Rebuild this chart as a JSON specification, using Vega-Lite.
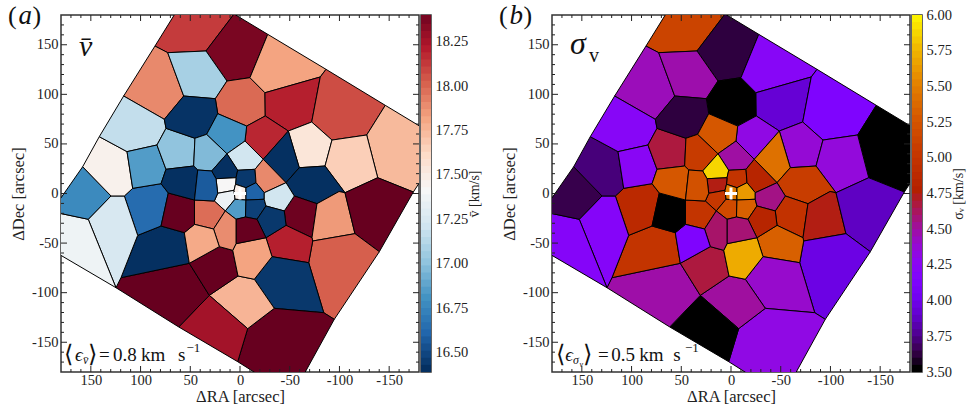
{"$schema":"https://vega.github.io/schema/vega-lite/v6.json","padding":{"left":7,"top":1,"right":0,"bottom":0},"autosize":{"type":"pad"},"background":"white","config":{"view":{"stroke":"#333","strokeWidth":1.5},"font":"Liberation Serif","axis":{"labelFont":"Liberation Serif","titleFont":"Liberation Serif","labelFontSize":14.5,"titleFontSize":16.5,"labelColor":"#222","titleColor":"#222","titleFontWeight":"normal","grid":false,"domain":false,"ticks":false,"labelOverlap":false,"labelFlush":false}},"datasets":{
"vtx":[{"k":1,"x":85.5,"y":148.7},{"k":2,"x":72.7,"y":142},{"k":3,"x":34.2,"y":143.7},{"k":4,"x":49.3,"y":207.2},{"k":5,"x":6,"y":181},{"k":6,"x":-27.9,"y":160.5},{"k":7,"x":-10,"y":116.8},{"k":8,"x":13.1,"y":113.4},{"k":9,"x":56.6,"y":98.3},{"k":10,"x":76.1,"y":74.8},{"k":11,"x":117,"y":98.3},{"k":12,"x":24.8,"y":95.6},{"k":13,"x":-25.1,"y":101.6},{"k":14,"x":-25.4,"y":78.2},{"k":15,"x":-6.7,"y":68},{"k":16,"x":22.4,"y":80.5},{"k":17,"x":-86.5,"y":125.2},{"k":18,"x":-80.7,"y":117.5},{"k":19,"x":-72.1,"y":72.1},{"k":20,"x":-48.6,"y":63},{"k":21,"x":-146.1,"y":88.9},{"k":22,"x":-127.4,"y":59},{"k":23,"x":-92.5,"y":53.9},{"k":24,"x":-174.3,"y":1.5},{"k":25,"x":-138.5,"y":15.9},{"k":26,"x":-85.5,"y":27.7},{"k":27,"x":-59.6,"y":26},{"k":28,"x":-105.6,"y":0.8},{"k":29,"x":-23.4,"y":34.5},{"k":30,"x":-5,"y":52.9},{"k":31,"x":-46.3,"y":10.9},{"k":32,"x":-77.4,"y":-10.3},{"k":33,"x":-99.6,"y":2},{"k":34,"x":-54.6,"y":-2.5},{"k":35,"x":-72.4,"y":-44.6},{"k":36,"x":-46.3,"y":-32.1},{"k":37,"x":-44.5,"y":-17.6},{"k":38,"x":-115.6,"y":-40.5},{"k":39,"x":-73.1,"y":-47.9},{"k":40,"x":-140.1,"y":-58.7},{"k":41,"x":-94.8,"y":-126.9},{"k":42,"x":-84.2,"y":-120.2},{"k":43,"x":-69.1,"y":-69.8},{"k":44,"x":-32.2,"y":-63.7},{"k":45,"x":-26.1,"y":-44.6},{"k":46,"x":-34.5,"y":-115.8},{"k":47,"x":-14.4,"y":-86.5},{"k":48,"x":-7.7,"y":-136.3},{"k":49,"x":2.3,"y":-169.6},{"k":50,"x":2,"y":-83.2},{"k":51,"x":30.9,"y":-102.7},{"k":52,"x":61.6,"y":-134.6},{"k":53,"x":51,"y":-70.4},{"k":54,"x":119.7,"y":-84.9},{"k":55,"x":124.7,"y":-95},{"k":56,"x":20.8,"y":-53.6},{"k":57,"x":7.3,"y":-57.3},{"k":58,"x":4,"y":-50.6},{"k":59,"x":102.9,"y":-42.2},{"k":60,"x":79.4,"y":-32.8},{"k":61,"x":56,"y":-39.5},{"k":62,"x":116.3,"y":-2.5},{"k":63,"x":72.1,"y":0.5},{"k":64,"x":107.9,"y":5.2},{"k":65,"x":79.4,"y":9.9},{"k":66,"x":129.7,"y":-2.5},{"k":67,"x":152.6,"y":-26},{"k":68,"x":189.6,"y":-18.2},{"k":69,"x":158.2,"y":27},{"k":71,"x":141.5,"y":57.3},{"k":72,"x":113.6,"y":42.2},{"k":74,"x":74.4,"y":65.7},{"k":75,"x":83.5,"y":48.9},{"k":76,"x":74.4,"y":24.4},{"k":77,"x":45.3,"y":55.7},{"k":78,"x":46.6,"y":27.7},{"k":79,"x":33.5,"y":59.7},{"k":80,"x":13.1,"y":40.1},{"k":81,"x":28.5,"y":22.7},{"k":82,"x":42.5,"y":23.7},{"k":83,"x":-15.1,"y":24.4},{"k":84,"x":2.3,"y":23.4},{"k":85,"x":4,"y":15.9},{"k":86,"x":24.1,"y":14.9},{"k":87,"x":-16.1,"y":10.9},{"k":88,"x":-6,"y":5.8},{"k":89,"x":6,"y":3.2},{"k":90,"x":22.4,"y":0.2},{"k":91,"x":5,"y":-5.8},{"k":92,"x":14.8,"y":-17.6},{"k":93,"x":25.8,"y":-7.6},{"k":94,"x":-24.4,"y":0.8},{"k":95,"x":-24.4,"y":-5.8},{"k":96,"x":-6,"y":-6.6},{"k":98,"x":4.5,"y":9.3},{"k":99,"x":-5.5,"y":-23.7},{"k":100,"x":4,"y":-26},{"k":101,"x":-17.1,"y":-26},{"k":102,"x":-26.1,"y":-12.6},{"k":103,"x":26.6,"y":-35.8},{"k":105,"x":45.8,"y":-31.1},{"k":106,"x":45.8,"y":-6.6},{"k":201,"x":-207.2,"y":51.9},{"k":202,"x":-52.3,"y":-204.2},{"k":203,"x":207.2,"y":-46.4}],
"cells":[{"c":1,"v":18.1,"s":5.1},{"c":2,"v":18.35,"s":3.6},{"c":3,"v":17.88,"s":4.42},{"c":4,"v":17.06,"s":4.45},{"c":5,"v":17.97,"s":3.5},{"c":6,"v":17.8,"s":4.2},{"c":7,"v":18.18,"s":3.9},{"c":8,"v":18.05,"s":4.12},{"c":9,"v":17.72,"s":3.5},{"c":10,"v":17.52,"s":4.35},{"c":11,"v":17.64,"s":4.33},{"c":12,"v":18.16,"s":4.3},{"c":13,"v":16.39,"s":5.4},{"c":14,"v":16.39,"s":5.05},{"c":15,"v":18.38,"s":4.95},{"c":16,"v":17.83,"s":4.72},{"c":17,"v":18.4,"s":3.85},{"c":18,"v":18,"s":3.95},{"c":19,"v":18.18,"s":5.3},{"c":20,"v":16.42,"s":4.38},{"c":21,"v":18.4,"s":4.3},{"c":22,"v":17.74,"s":4.48},{"c":23,"v":18.24,"s":3.5},{"c":24,"v":18.4,"s":4.46},{"c":25,"v":18.4,"s":4.65},{"c":26,"v":17.8,"s":5.68},{"c":27,"v":16.39,"s":4.97},{"c":28,"v":16.62,"s":4.85},{"c":29,"v":17.23,"s":4.18},{"c":30,"v":17.35,"s":4.18},{"c":31,"v":16.75,"s":3.62},{"c":32,"v":17.44,"s":3.7},{"c":33,"v":17.15,"s":4.2},{"c":34,"v":16.83,"s":4.22},{"c":35,"v":16.99,"s":4.65},{"c":36,"v":16.4,"s":3.6},{"c":37,"v":16.95,"s":5.03},{"c":38,"v":16.79,"s":5.25},{"c":39,"v":17.2,"s":4.47},{"c":40,"v":16.39,"s":5.85},{"c":41,"v":16.42,"s":4.97},{"c":42,"v":17.88,"s":4.8},{"c":43,"v":17.4,"s":4.72},{"c":44,"v":17.33,"s":5},{"c":45,"v":17.45,"s":5.45},{"c":46,"v":16.58,"s":5.6},{"c":47,"v":16.83,"s":5.15},{"c":48,"v":16.45,"s":5.3},{"c":49,"v":17.2,"s":4.53},{"c":50,"v":16.42,"s":4.8},{"c":51,"v":18.4,"s":4.56},{"c":52,"v":17.96,"s":4.97},{"c":53,"v":17.87,"s":4.58},{"c":54,"v":17.78,"s":4.12},{"c":55,"v":18.4,"s":3.5},{"c":56,"v":16.39,"s":5.25},{"c":57,"v":16.55,"s":5.2}],
"poly":[{"c":1,"i":0,"k":4},{"c":1,"i":1,"k":5},{"c":1,"i":2,"k":3},{"c":1,"i":3,"k":2},{"c":1,"i":4,"k":1},{"c":2,"i":0,"k":5},{"c":2,"i":1,"k":6},{"c":2,"i":2,"k":7},{"c":2,"i":3,"k":8},{"c":2,"i":4,"k":3},{"c":3,"i":0,"k":1},{"c":3,"i":1,"k":2},{"c":3,"i":2,"k":9},{"c":3,"i":3,"k":10},{"c":3,"i":4,"k":11},{"c":4,"i":0,"k":2},{"c":4,"i":1,"k":3},{"c":4,"i":2,"k":8},{"c":4,"i":3,"k":12},{"c":4,"i":4,"k":9},{"c":5,"i":0,"k":8},{"c":5,"i":1,"k":7},{"c":5,"i":2,"k":13},{"c":5,"i":3,"k":14},{"c":5,"i":4,"k":15},{"c":5,"i":5,"k":16},{"c":5,"i":6,"k":12},{"c":6,"i":0,"k":6},{"c":6,"i":1,"k":17},{"c":6,"i":2,"k":18},{"c":6,"i":3,"k":13},{"c":6,"i":4,"k":7},{"c":7,"i":0,"k":13},{"c":7,"i":1,"k":18},{"c":7,"i":2,"k":19},{"c":7,"i":3,"k":20},{"c":7,"i":4,"k":14},{"c":8,"i":0,"k":17},{"c":8,"i":1,"k":21},{"c":8,"i":2,"k":22},{"c":8,"i":3,"k":23},{"c":8,"i":4,"k":19},{"c":8,"i":5,"k":18},{"c":9,"i":0,"k":21},{"c":9,"i":1,"k":201},{"c":9,"i":2,"k":24},{"c":9,"i":3,"k":25},{"c":9,"i":4,"k":22},{"c":10,"i":0,"k":20},{"c":10,"i":1,"k":19},{"c":10,"i":2,"k":23},{"c":10,"i":3,"k":26},{"c":10,"i":4,"k":27},{"c":11,"i":0,"k":23},{"c":11,"i":1,"k":22},{"c":11,"i":2,"k":25},{"c":11,"i":3,"k":28},{"c":11,"i":4,"k":26},{"c":12,"i":0,"k":14},{"c":12,"i":1,"k":20},{"c":12,"i":2,"k":29},{"c":12,"i":3,"k":30},{"c":12,"i":4,"k":15},{"c":13,"i":0,"k":20},{"c":13,"i":1,"k":27},{"c":13,"i":2,"k":31},{"c":13,"i":3,"k":29},{"c":14,"i":0,"k":27},{"c":14,"i":1,"k":26},{"c":14,"i":2,"k":28},{"c":14,"i":3,"k":33},{"c":14,"i":4,"k":32},{"c":14,"i":5,"k":34},{"c":14,"i":6,"k":31},{"c":15,"i":0,"k":34},{"c":15,"i":1,"k":32},{"c":15,"i":2,"k":35},{"c":15,"i":3,"k":36},{"c":15,"i":4,"k":37},{"c":16,"i":0,"k":32},{"c":16,"i":1,"k":33},{"c":16,"i":2,"k":28},{"c":16,"i":3,"k":38},{"c":16,"i":4,"k":39},{"c":16,"i":5,"k":35},{"c":17,"i":0,"k":28},{"c":17,"i":1,"k":25},{"c":17,"i":2,"k":24},{"c":17,"i":3,"k":40},{"c":17,"i":4,"k":38},{"c":18,"i":0,"k":39},{"c":18,"i":1,"k":38},{"c":18,"i":2,"k":40},{"c":18,"i":3,"k":41},{"c":18,"i":4,"k":42},{"c":18,"i":5,"k":43},{"c":19,"i":0,"k":36},{"c":19,"i":1,"k":35},{"c":19,"i":2,"k":39},{"c":19,"i":3,"k":43},{"c":19,"i":4,"k":44},{"c":19,"i":5,"k":45},{"c":20,"i":0,"k":44},{"c":20,"i":1,"k":43},{"c":20,"i":2,"k":42},{"c":20,"i":3,"k":46},{"c":20,"i":4,"k":47},{"c":21,"i":0,"k":46},{"c":21,"i":1,"k":42},{"c":21,"i":2,"k":41},{"c":21,"i":3,"k":202},{"c":21,"i":4,"k":49},{"c":21,"i":5,"k":48},{"c":22,"i":0,"k":50},{"c":22,"i":1,"k":47},{"c":22,"i":2,"k":46},{"c":22,"i":3,"k":48},{"c":22,"i":4,"k":51},{"c":23,"i":0,"k":51},{"c":23,"i":1,"k":48},{"c":23,"i":2,"k":49},{"c":23,"i":3,"k":52},{"c":24,"i":0,"k":52},{"c":24,"i":1,"k":51},{"c":24,"i":2,"k":53},{"c":24,"i":3,"k":54},{"c":24,"i":4,"k":55},{"c":25,"i":0,"k":53},{"c":25,"i":1,"k":56},{"c":25,"i":2,"k":57},{"c":25,"i":3,"k":50},{"c":25,"i":4,"k":51},{"c":26,"i":0,"k":57},{"c":26,"i":1,"k":58},{"c":26,"i":2,"k":45},{"c":26,"i":3,"k":44},{"c":26,"i":4,"k":47},{"c":26,"i":5,"k":50},{"c":27,"i":0,"k":59},{"c":27,"i":1,"k":60},{"c":27,"i":2,"k":61},{"c":27,"i":3,"k":53},{"c":27,"i":4,"k":54},{"c":28,"i":0,"k":62},{"c":28,"i":1,"k":64},{"c":28,"i":2,"k":65},{"c":28,"i":3,"k":63},{"c":28,"i":4,"k":60},{"c":28,"i":5,"k":59},{"c":29,"i":0,"k":66},{"c":29,"i":1,"k":62},{"c":29,"i":2,"k":59},{"c":29,"i":3,"k":54},{"c":29,"i":4,"k":55},{"c":29,"i":5,"k":67},{"c":30,"i":0,"k":68},{"c":30,"i":1,"k":67},{"c":30,"i":2,"k":55},{"c":30,"i":3,"k":203},{"c":31,"i":0,"k":69},{"c":31,"i":1,"k":66},{"c":31,"i":2,"k":67},{"c":31,"i":3,"k":68},{"c":32,"i":0,"k":71},{"c":32,"i":1,"k":72},{"c":32,"i":2,"k":64},{"c":32,"i":3,"k":62},{"c":32,"i":4,"k":66},{"c":32,"i":5,"k":69},{"c":33,"i":0,"k":11},{"c":33,"i":1,"k":10},{"c":33,"i":2,"k":74},{"c":33,"i":3,"k":75},{"c":33,"i":4,"k":72},{"c":33,"i":5,"k":71},{"c":34,"i":0,"k":72},{"c":34,"i":1,"k":75},{"c":34,"i":2,"k":76},{"c":34,"i":3,"k":65},{"c":34,"i":4,"k":64},{"c":35,"i":0,"k":74},{"c":35,"i":1,"k":77},{"c":35,"i":2,"k":78},{"c":35,"i":3,"k":76},{"c":35,"i":4,"k":75},{"c":36,"i":0,"k":9},{"c":36,"i":1,"k":12},{"c":36,"i":2,"k":16},{"c":36,"i":3,"k":79},{"c":36,"i":4,"k":77},{"c":36,"i":5,"k":74},{"c":36,"i":6,"k":10},{"c":37,"i":0,"k":79},{"c":37,"i":1,"k":80},{"c":37,"i":2,"k":81},{"c":37,"i":3,"k":82},{"c":37,"i":4,"k":78},{"c":37,"i":5,"k":77},{"c":38,"i":0,"k":16},{"c":38,"i":1,"k":15},{"c":38,"i":2,"k":30},{"c":38,"i":3,"k":80},{"c":38,"i":4,"k":79},{"c":39,"i":0,"k":30},{"c":39,"i":1,"k":29},{"c":39,"i":2,"k":83},{"c":39,"i":3,"k":84},{"c":39,"i":4,"k":80},{"c":40,"i":0,"k":80},{"c":40,"i":1,"k":84},{"c":40,"i":2,"k":85},{"c":40,"i":3,"k":86},{"c":40,"i":4,"k":81},{"c":41,"i":0,"k":84},{"c":41,"i":1,"k":83},{"c":41,"i":2,"k":87},{"c":41,"i":3,"k":88},{"c":41,"i":4,"k":98},{"c":41,"i":5,"k":85},{"c":42,"i":0,"k":29},{"c":42,"i":1,"k":31},{"c":42,"i":2,"k":94},{"c":42,"i":3,"k":87},{"c":42,"i":4,"k":83},{"c":43,"i":0,"k":86},{"c":43,"i":1,"k":85},{"c":43,"i":2,"k":98},{"c":43,"i":3,"k":89},{"c":43,"i":4,"k":90},{"c":44,"i":0,"k":90},{"c":44,"i":1,"k":89},{"c":44,"i":2,"k":91},{"c":44,"i":3,"k":92},{"c":44,"i":4,"k":93},{"c":45,"i":0,"k":98},{"c":45,"i":1,"k":88},{"c":45,"i":2,"k":96},{"c":45,"i":3,"k":91},{"c":45,"i":4,"k":89},{"c":46,"i":0,"k":88},{"c":46,"i":1,"k":87},{"c":46,"i":2,"k":94},{"c":46,"i":3,"k":95},{"c":46,"i":4,"k":96},{"c":47,"i":0,"k":91},{"c":47,"i":1,"k":96},{"c":47,"i":2,"k":99},{"c":47,"i":3,"k":100},{"c":47,"i":4,"k":92},{"c":48,"i":0,"k":96},{"c":48,"i":1,"k":95},{"c":48,"i":2,"k":102},{"c":48,"i":3,"k":101},{"c":48,"i":4,"k":99},{"c":49,"i":0,"k":94},{"c":49,"i":1,"k":31},{"c":49,"i":2,"k":34},{"c":49,"i":3,"k":37},{"c":49,"i":4,"k":102},{"c":49,"i":5,"k":95},{"c":50,"i":0,"k":102},{"c":50,"i":1,"k":37},{"c":50,"i":2,"k":36},{"c":50,"i":3,"k":45},{"c":50,"i":4,"k":101},{"c":51,"i":0,"k":100},{"c":51,"i":1,"k":99},{"c":51,"i":2,"k":101},{"c":51,"i":3,"k":45},{"c":51,"i":4,"k":58},{"c":52,"i":0,"k":106},{"c":52,"i":1,"k":93},{"c":52,"i":2,"k":92},{"c":52,"i":3,"k":103},{"c":52,"i":4,"k":105},{"c":53,"i":0,"k":92},{"c":53,"i":1,"k":100},{"c":53,"i":2,"k":58},{"c":53,"i":3,"k":57},{"c":53,"i":4,"k":56},{"c":53,"i":5,"k":103},{"c":54,"i":0,"k":61},{"c":54,"i":1,"k":105},{"c":54,"i":2,"k":103},{"c":54,"i":3,"k":56},{"c":54,"i":4,"k":53},{"c":55,"i":0,"k":63},{"c":55,"i":1,"k":106},{"c":55,"i":2,"k":105},{"c":55,"i":3,"k":61},{"c":55,"i":4,"k":60},{"c":56,"i":0,"k":65},{"c":56,"i":1,"k":76},{"c":56,"i":2,"k":78},{"c":56,"i":3,"k":82},{"c":56,"i":4,"k":106},{"c":56,"i":5,"k":63},{"c":57,"i":0,"k":82},{"c":57,"i":1,"k":81},{"c":57,"i":2,"k":86},{"c":57,"i":3,"k":90},{"c":57,"i":4,"k":93},{"c":57,"i":5,"k":106}],
"ticks":[{"t":-170,"a":180,"b":-180,"z":6},{"t":-160,"a":180,"b":-180,"z":6},{"t":-150,"a":180,"b":-180,"z":12},{"t":-140,"a":180,"b":-180,"z":6},{"t":-130,"a":180,"b":-180,"z":6},{"t":-120,"a":180,"b":-180,"z":6},{"t":-110,"a":180,"b":-180,"z":6},{"t":-100,"a":180,"b":-180,"z":12},{"t":-90,"a":180,"b":-180,"z":6},{"t":-80,"a":180,"b":-180,"z":6},{"t":-70,"a":180,"b":-180,"z":6},{"t":-60,"a":180,"b":-180,"z":6},{"t":-50,"a":180,"b":-180,"z":12},{"t":-40,"a":180,"b":-180,"z":6},{"t":-30,"a":180,"b":-180,"z":6},{"t":-20,"a":180,"b":-180,"z":6},{"t":-10,"a":180,"b":-180,"z":6},{"t":0,"a":180,"b":-180,"z":12},{"t":10,"a":180,"b":-180,"z":6},{"t":20,"a":180,"b":-180,"z":6},{"t":30,"a":180,"b":-180,"z":6},{"t":40,"a":180,"b":-180,"z":6},{"t":50,"a":180,"b":-180,"z":12},{"t":60,"a":180,"b":-180,"z":6},{"t":70,"a":180,"b":-180,"z":6},{"t":80,"a":180,"b":-180,"z":6},{"t":90,"a":180,"b":-180,"z":6},{"t":100,"a":180,"b":-180,"z":12},{"t":110,"a":180,"b":-180,"z":6},{"t":120,"a":180,"b":-180,"z":6},{"t":130,"a":180,"b":-180,"z":6},{"t":140,"a":180,"b":-180,"z":6},{"t":150,"a":180,"b":-180,"z":12},{"t":160,"a":180,"b":-180,"z":6},{"t":170,"a":180,"b":-180,"z":6}],
"center":[{"x":0,"y":0}],
"cbv":[{"lo":16.39,"hi":16.45},{"lo":16.43,"hi":16.49},{"lo":16.47,"hi":16.53},{"lo":16.51,"hi":16.57},{"lo":16.55,"hi":16.61},{"lo":16.59,"hi":16.65},{"lo":16.63,"hi":16.69},{"lo":16.67,"hi":16.73},{"lo":16.71,"hi":16.77},{"lo":16.75,"hi":16.81},{"lo":16.79,"hi":16.85},{"lo":16.83,"hi":16.89},{"lo":16.87,"hi":16.93},{"lo":16.91,"hi":16.97},{"lo":16.95,"hi":17.01},{"lo":16.99,"hi":17.05},{"lo":17.03,"hi":17.09},{"lo":17.07,"hi":17.13},{"lo":17.11,"hi":17.17},{"lo":17.15,"hi":17.21},{"lo":17.19,"hi":17.25},{"lo":17.23,"hi":17.29},{"lo":17.27,"hi":17.33},{"lo":17.31,"hi":17.37},{"lo":17.35,"hi":17.41},{"lo":17.39,"hi":17.45},{"lo":17.43,"hi":17.49},{"lo":17.47,"hi":17.53},{"lo":17.51,"hi":17.57},{"lo":17.55,"hi":17.61},{"lo":17.59,"hi":17.65},{"lo":17.63,"hi":17.69},{"lo":17.67,"hi":17.73},{"lo":17.71,"hi":17.77},{"lo":17.75,"hi":17.81},{"lo":17.79,"hi":17.85},{"lo":17.83,"hi":17.89},{"lo":17.87,"hi":17.93},{"lo":17.91,"hi":17.97},{"lo":17.95,"hi":18.01},{"lo":17.99,"hi":18.05},{"lo":18.03,"hi":18.09},{"lo":18.07,"hi":18.13},{"lo":18.11,"hi":18.17},{"lo":18.15,"hi":18.21},{"lo":18.19,"hi":18.25},{"lo":18.23,"hi":18.29},{"lo":18.27,"hi":18.33},{"lo":18.31,"hi":18.37},{"lo":18.35,"hi":18.4}],
"cbs":[{"lo":3.5,"hi":3.57},{"lo":3.55,"hi":3.62},{"lo":3.6,"hi":3.67},{"lo":3.65,"hi":3.72},{"lo":3.7,"hi":3.77},{"lo":3.75,"hi":3.82},{"lo":3.8,"hi":3.87},{"lo":3.85,"hi":3.92},{"lo":3.9,"hi":3.97},{"lo":3.95,"hi":4.02},{"lo":4,"hi":4.07},{"lo":4.05,"hi":4.12},{"lo":4.1,"hi":4.17},{"lo":4.15,"hi":4.22},{"lo":4.2,"hi":4.27},{"lo":4.25,"hi":4.32},{"lo":4.3,"hi":4.37},{"lo":4.35,"hi":4.42},{"lo":4.4,"hi":4.47},{"lo":4.45,"hi":4.52},{"lo":4.5,"hi":4.57},{"lo":4.55,"hi":4.62},{"lo":4.6,"hi":4.67},{"lo":4.65,"hi":4.72},{"lo":4.7,"hi":4.77},{"lo":4.75,"hi":4.82},{"lo":4.8,"hi":4.87},{"lo":4.85,"hi":4.92},{"lo":4.9,"hi":4.97},{"lo":4.95,"hi":5.02},{"lo":5,"hi":5.07},{"lo":5.05,"hi":5.12},{"lo":5.1,"hi":5.17},{"lo":5.15,"hi":5.22},{"lo":5.2,"hi":5.27},{"lo":5.25,"hi":5.32},{"lo":5.3,"hi":5.37},{"lo":5.35,"hi":5.42},{"lo":5.4,"hi":5.47},{"lo":5.45,"hi":5.52},{"lo":5.5,"hi":5.57},{"lo":5.55,"hi":5.62},{"lo":5.6,"hi":5.67},{"lo":5.65,"hi":5.72},{"lo":5.7,"hi":5.77},{"lo":5.75,"hi":5.82},{"lo":5.8,"hi":5.87},{"lo":5.85,"hi":5.92},{"lo":5.9,"hi":5.97},{"lo":5.95,"hi":6}]
},
"spacing":0,
"hconcat":[
{"width":358,"height":357,"layer":[
{"data":{"name":"poly"},"transform":[{"lookup":"k","from":{"data":{"name":"vtx"},"key":"k","fields":["x","y"]}},{"lookup":"c","from":{"data":{"name":"cells"},"key":"c","fields":["v","s"]}}],"mark":{"type":"line","interpolate":"linear-closed","stroke":"black","strokeWidth":1,"clip":true,"opacity":1,"fillOpacity":1},"encoding":{"x":{"field":"x","type":"quantitative","scale":{"domain":[180,-180],"nice":false,"zero":false},"axis":{"values":[-150,-100,-50,0,50,100,150],"labelExpr":"''+datum.value","title":"ΔRA [arcsec]","labelPadding":1,"titlePadding":2}},"y":{"field":"y","type":"quantitative","scale":{"domain":[-180,180],"nice":false,"zero":false},"axis":{"values":[-150,-100,-50,0,50,100,150],"labelExpr":"''+datum.value","title":"ΔDec [arcsec]","labelPadding":3,"titlePadding":5}},"detail":{"field":"c"},"order":{"field":"i","type":"quantitative"},"fill":{"field":"v","type":"quantitative","scale":{"domain":[16.39,16.591,16.792,16.993,17.194,17.395,17.596,17.797,17.998,18.199,18.4],"range":["#053061","#2166ac","#4393c3","#92c5de","#d1e5f0","#f7f7f7","#fddbc7","#f4a582","#d6604d","#b2182b","#67001f"],"interpolate":"rgb","clamp":true,"nice":false,"zero":false},"legend":null}}},
{"data":{"name":"ticks"},"mark":{"type":"tick","orient":"vertical","color":"#222","thickness":1,"clip":true,"opacity":1},"encoding":{"x":{"field":"t","type":"quantitative"},"y":{"field":"a","type":"quantitative"},"size":{"field":"z","type":"quantitative","scale":null}}},
{"data":{"name":"ticks"},"mark":{"type":"tick","orient":"vertical","color":"#222","thickness":1,"clip":true,"opacity":1},"encoding":{"x":{"field":"t","type":"quantitative"},"y":{"field":"b","type":"quantitative"},"size":{"field":"z","type":"quantitative","scale":null}}},
{"data":{"name":"ticks"},"mark":{"type":"tick","orient":"horizontal","color":"#222","thickness":1,"clip":true,"opacity":1},"encoding":{"y":{"field":"t","type":"quantitative"},"x":{"field":"a","type":"quantitative"},"size":{"field":"z","type":"quantitative","scale":null}}},
{"data":{"name":"ticks"},"mark":{"type":"tick","orient":"horizontal","color":"#222","thickness":1,"clip":true,"opacity":1},"encoding":{"y":{"field":"t","type":"quantitative"},"x":{"field":"b","type":"quantitative"},"size":{"field":"z","type":"quantitative","scale":null}}},
{"data":{"name":"center"},"mark":{"type":"point","shape":"M-1,0L1,0M0,-1L0,1","size":144,"filled":false,"stroke":"white","strokeWidth":3,"opacity":1},"encoding":{"x":{"field":"x","type":"quantitative"},"y":{"field":"y","type":"quantitative"}}},
{"data":{"values":[{"t":"(","x":233.3,"y":171,"s":26},{"t":")","x":208.7,"y":171,"s":26},{"t":"⟨","x":177,"y":-170,"s":24},{"t":"⟩","x":152.9,"y":-170,"s":24},{"t":"=","x":141.8,"y":-169,"s":19},{"t":"0.8","x":127.7,"y":-169,"s":19},{"t":"km","x":99.6,"y":-169,"s":19},{"t":"s","x":62.3,"y":-169,"s":19},{"t":"−1","x":53.8,"y":-160,"s":13}]},"mark":{"type":"text","align":"left","baseline":"alphabetic","font":"Liberation Serif","color":"#111"},"encoding":{"x":{"field":"x","type":"quantitative"},"y":{"field":"y","type":"quantitative"},"text":{"field":"t"},"size":{"field":"s","type":"quantitative","scale":null}}},
{"data":{"values":[{"t":"a","x":222.7,"y":171,"s":27},{"t":"v̄","x":161.9,"y":138.7,"s":30},{"t":"ϵ","x":165.9,"y":-169,"s":19},{"t":"v̄","x":157.9,"y":-172,"s":12}]},"mark":{"type":"text","align":"left","baseline":"alphabetic","font":"Liberation Serif","fontStyle":"italic","color":"#111"},"encoding":{"x":{"field":"x","type":"quantitative"},"y":{"field":"y","type":"quantitative"},"text":{"field":"t"},"size":{"field":"s","type":"quantitative","scale":null}}}
]},
{"width":10,"height":357,"data":{"name":"cbv"},"mark":{"type":"rect","clip":true,"opacity":1},"encoding":{"y":{"field":"lo","type":"quantitative","scale":{"domain":[16.39,18.4],"nice":false,"zero":false},"axis":{"orient":"right","values":[16.5,16.75,17,17.25,17.5,17.75,18,18.25],"format":".2f","title":"v̄ [km/s]","titleAngle":270,"titleFontSize":14,"labelPadding":4,"titlePadding":14}},"y2":{"field":"hi"},"fill":{"field":"lo","type":"quantitative","scale":{"domain":[16.39,16.591,16.792,16.993,17.194,17.395,17.596,17.797,17.998,18.199,18.4],"range":["#053061","#2166ac","#4393c3","#92c5de","#d1e5f0","#f7f7f7","#fddbc7","#f4a582","#d6604d","#b2182b","#67001f"],"interpolate":"rgb","clamp":true,"nice":false,"zero":false},"legend":null}}},
{"width":358,"height":357,"layer":[
{"data":{"name":"poly"},"transform":[{"lookup":"k","from":{"data":{"name":"vtx"},"key":"k","fields":["x","y"]}},{"lookup":"c","from":{"data":{"name":"cells"},"key":"c","fields":["v","s"]}}],"mark":{"type":"line","filled":true,"interpolate":"linear-closed","stroke":"black","strokeWidth":1,"clip":true,"opacity":1,"fillOpacity":1},"encoding":{"x":{"field":"x","type":"quantitative","scale":{"domain":[180,-180],"nice":false,"zero":false},"axis":{"values":[-150,-100,-50,0,50,100,150],"labelExpr":"''+datum.value","title":"ΔRA [arcsec]","labelPadding":1,"titlePadding":2}},"y":{"field":"y","type":"quantitative","scale":{"domain":[-180,180],"nice":false,"zero":false},"axis":{"values":[-150,-100,-50,0,50,100,150],"labelExpr":"''+datum.value","title":"ΔDec [arcsec]","labelPadding":3,"titlePadding":5}},"detail":{"field":"c"},"order":{"field":"i","type":"quantitative"},"color":{"field":"s","type":"quantitative","scale":{"domain":[3.5,3.625,3.75,3.875,4,4.125,4.25,4.375,4.5,4.625,4.75,5,5.25,5.5,5.75,6],"range":["#000000","#39004f","#510096","#6301ce","#7202f2","#8004ff","#8c07f2","#970bce","#a11096","#ab174f","#b42000","#c53700","#d55700","#e48300","#f2ba00","#ffff00"],"interpolate":"rgb","clamp":true,"nice":false,"zero":false},"legend":null}}},
{"data":{"name":"ticks"},"mark":{"type":"tick","orient":"vertical","color":"#222","thickness":1,"clip":true,"opacity":1},"encoding":{"x":{"field":"t","type":"quantitative"},"y":{"field":"a","type":"quantitative"},"size":{"field":"z","type":"quantitative","scale":null}}},
{"data":{"name":"ticks"},"mark":{"type":"tick","orient":"vertical","color":"#222","thickness":1,"clip":true,"opacity":1},"encoding":{"x":{"field":"t","type":"quantitative"},"y":{"field":"b","type":"quantitative"},"size":{"field":"z","type":"quantitative","scale":null}}},
{"data":{"name":"ticks"},"mark":{"type":"tick","orient":"horizontal","color":"#222","thickness":1,"clip":true,"opacity":1},"encoding":{"y":{"field":"t","type":"quantitative"},"x":{"field":"a","type":"quantitative"},"size":{"field":"z","type":"quantitative","scale":null}}},
{"data":{"name":"ticks"},"mark":{"type":"tick","orient":"horizontal","color":"#222","thickness":1,"clip":true,"opacity":1},"encoding":{"y":{"field":"t","type":"quantitative"},"x":{"field":"b","type":"quantitative"},"size":{"field":"z","type":"quantitative","scale":null}}},
{"data":{"name":"center"},"mark":{"type":"point","shape":"M-1,0L1,0M0,-1L0,1","size":144,"filled":false,"stroke":"white","strokeWidth":3,"opacity":1},"encoding":{"x":{"field":"x","type":"quantitative"},"y":{"field":"y","type":"quantitative"}}},
{"data":{"values":[{"t":" ","x":248,"y":171,"s":26},{"t":"(","x":233.3,"y":171,"s":26},{"t":")","x":208.7,"y":171,"s":26},{"t":"⟨","x":175.7,"y":-170,"s":24},{"t":"⟩","x":148.8,"y":-170,"s":24},{"t":"=","x":133.7,"y":-169,"s":19},{"t":"0.5","x":120.4,"y":-169,"s":19},{"t":"km","x":92.2,"y":-169,"s":19},{"t":"s","x":58,"y":-169,"s":19},{"t":"−1","x":46.3,"y":-160,"s":13},{"t":"v","x":142.8,"y":132.9,"s":20}]},"mark":{"type":"text","align":"left","baseline":"alphabetic","font":"Liberation Serif","color":"#111"},"encoding":{"x":{"field":"x","type":"quantitative"},"y":{"field":"y","type":"quantitative"},"text":{"field":"t"},"size":{"field":"s","type":"quantitative","scale":null}}},
{"data":{"values":[{"t":"b","x":222.7,"y":171,"s":27},{"t":"σ","x":161.9,"y":140.7,"s":32},{"t":"ϵ","x":166.6,"y":-169,"s":19},{"t":"σ","x":158.9,"y":-172,"s":12},{"t":"v","x":152.3,"y":-175,"s":8}]},"mark":{"type":"text","align":"left","baseline":"alphabetic","font":"Liberation Serif","fontStyle":"italic","color":"#111"},"encoding":{"x":{"field":"x","type":"quantitative"},"y":{"field":"y","type":"quantitative"},"text":{"field":"t"},"size":{"field":"s","type":"quantitative","scale":null}}}
]},
{"width":10,"height":357,"data":{"name":"cbs"},"mark":{"type":"rect","clip":true,"opacity":1},"encoding":{"y":{"field":"lo","type":"quantitative","scale":{"domain":[3.5,6],"nice":false,"zero":false},"axis":{"orient":"right","values":[3.5,3.75,4,4.25,4.5,4.75,5,5.25,5.5,5.75,6],"format":".2f","title":"σᵥ [km/s]","titleAngle":270,"titleFontSize":14,"labelPadding":4,"titlePadding":14}},"y2":{"field":"hi"},"color":{"field":"lo","type":"quantitative","scale":{"domain":[3.5,3.625,3.75,3.875,4,4.125,4.25,4.375,4.5,4.625,4.75,5,5.25,5.5,5.75,6],"range":["#000000","#39004f","#510096","#6301ce","#7202f2","#8004ff","#8c07f2","#970bce","#a11096","#ab174f","#b42000","#c53700","#d55700","#e48300","#f2ba00","#ffff00"],"interpolate":"rgb","clamp":true,"nice":false,"zero":false},"legend":null}}}
]}
